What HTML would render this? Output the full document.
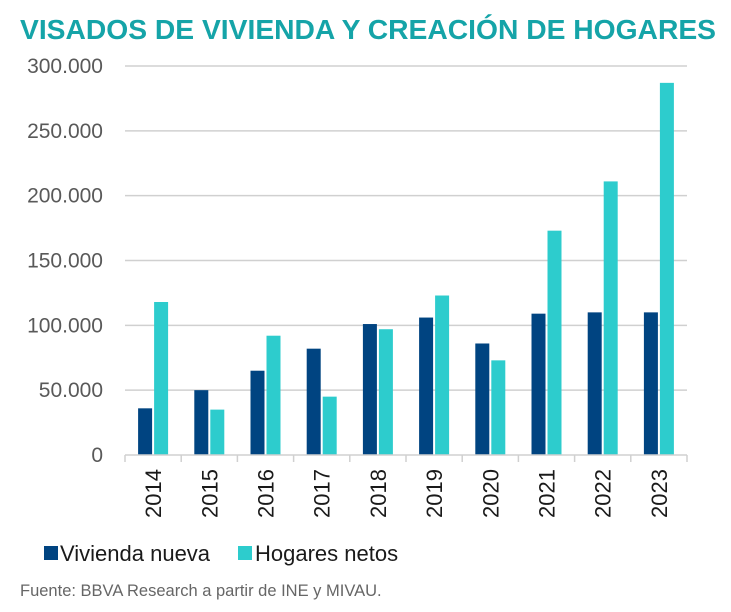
<!DOCTYPE html>
<html><head><meta charset="utf-8"><style>
body{margin:0;background:#fff;width:731px;height:607px;overflow:hidden;font-family:"Liberation Sans",Arial,sans-serif}
</style></head><body>
<svg width="731" height="607">
<text x="20" y="39" font-size="28" font-weight="bold" fill="#15a4a8" textLength="696" lengthAdjust="spacingAndGlyphs">VISADOS DE VIVIENDA Y CREACIÓN DE HOGARES</text>
<g id="grid"></g><g id="bars"></g><g id="axis"></g>
<g>
<rect x="44" y="546" width="14" height="14" fill="#004481"/>
<text x="60" y="561" font-size="22" fill="#1a1a1a">Vivienda nueva</text>
<rect x="238" y="546" width="14" height="14" fill="#2dcccd"/>
<text x="255" y="561" font-size="22" fill="#1a1a1a">Hogares netos</text>
</g>
<text x="20" y="596" font-size="16.5" fill="#666">Fuente: BBVA Research a partir de INE y MIVAU.</text>
</svg>
<script>
const categories=["2014","2015","2016","2017","2018","2019","2020","2021","2022","2023"];
const vivienda=[36000,50000,65000,82000,101000,106000,86000,109000,110000,110000];
const hogares=[118000,35000,92000,45000,97000,123000,73000,173000,211000,287000];
const ticks=[0,50000,100000,150000,200000,250000,300000];
const tickLabels=["0","50.000","100.000","150.000","200.000","250.000","300.000"];
const NS="http://www.w3.org/2000/svg";
const x0=125,x1=687,yBase=455,yTop=66,maxV=300000;
const bw=(x1-x0)/categories.length;
function y(v){return yBase-(v/maxV)*(yBase-yTop);}
function mk(tag,attrs,parent){const e=document.createElementNS(NS,tag);for(const k in attrs)e.setAttribute(k,attrs[k]);parent.appendChild(e);return e;}
const grid=document.getElementById('grid'),bars=document.getElementById('bars'),axis=document.getElementById('axis');
ticks.forEach((t,i)=>{
  if(t>0){const l=mk('line',{x1:x0,x2:x1,y1:y(t),y2:y(t),stroke:'#d0d0d0','stroke-width':1.5},grid);
  
  }
  const tx=mk('text',{x:103,y:y(t)+7,'text-anchor':'end','font-size':21,fill:'#595959'},grid);
  tx.textContent=tickLabels[i];
  
  
});
categories.forEach((c,i)=>{
  const cx=x0+bw*(i+0.5);
  const r1=mk('rect',{x:cx-15,y:y(vivienda[i]),width:14,height:yBase-y(vivienda[i]),fill:'#004481'},bars);
  
  
  const r2=mk('rect',{x:cx+1,y:y(hogares[i]),width:14,height:yBase-y(hogares[i]),fill:'#2dcccd'},bars);
  
  
  const tk=mk('line',{x1:x0+bw*i,x2:x0+bw*i,y1:yBase,y2:yBase+7,stroke:'#d0d0d0','stroke-width':1.5},axis);
  
  
  const lb=mk('text',{x:0,y:0,'font-size':22,fill:'#1a1a1a','text-anchor':'end',transform:`translate(${cx+8},469) rotate(-90)`},axis);
  lb.textContent=c;
  
  
});
const tk=mk('line',{x1:x1,x2:x1,y1:yBase,y2:yBase+7,stroke:'#d0d0d0','stroke-width':1.5},axis);


const ax=mk('line',{x1:x0,x2:x1,y1:yBase,y2:yBase,stroke:'#d0d0d0','stroke-width':1.5},axis);


</script>
</body></html>
